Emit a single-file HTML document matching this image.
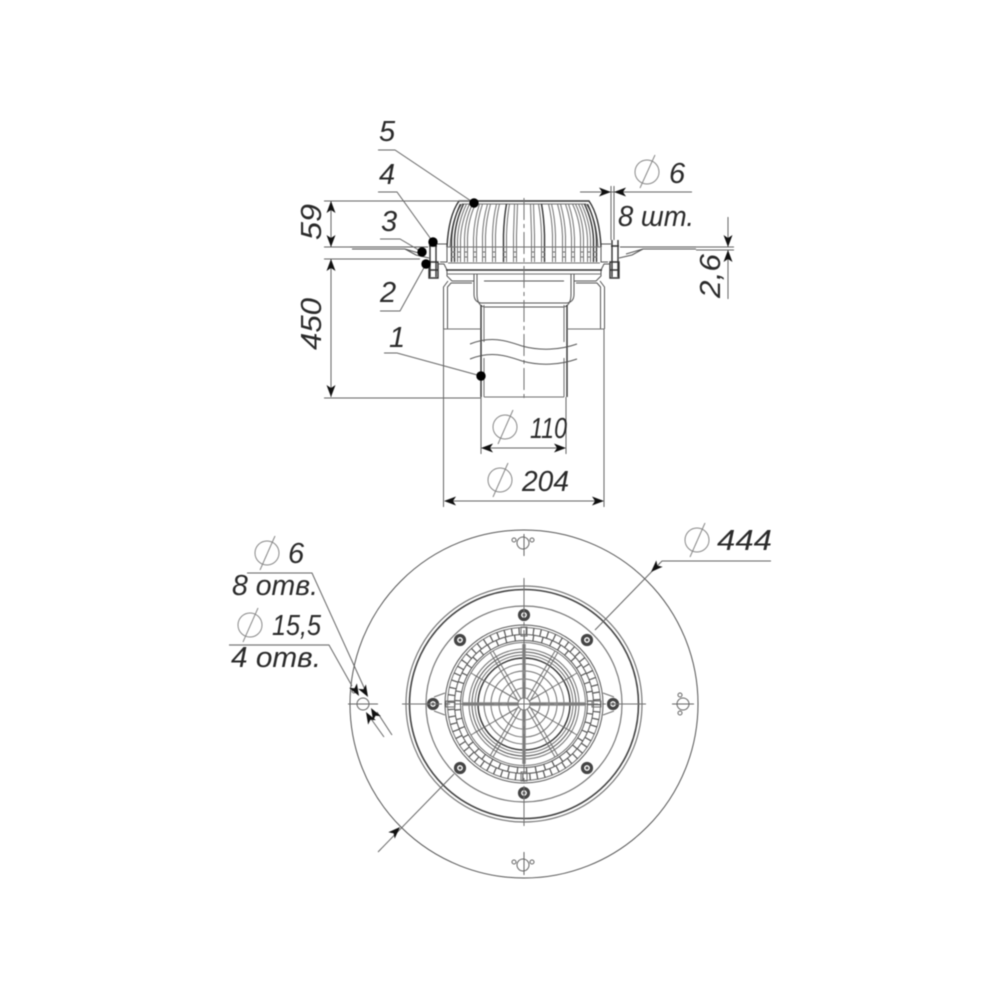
<!DOCTYPE html>
<html lang="ru">
<head>
<meta charset="utf-8">
<title>Diagram</title>
<style>
html,body{margin:0;padding:0;background:#fff;width:1000px;height:1000px;overflow:hidden}
svg{display:block;filter:blur(.5px)}
text{font-family:"Liberation Sans",sans-serif;font-style:italic;fill:#2a2a2a;font-size:29px}
.l{fill:none;stroke:#555;stroke-width:1}
.g{fill:none;stroke:#707070;stroke-width:1}
.t{fill:none;stroke:#666;stroke-width:1}
.k{fill:none;stroke:#333;stroke-width:1.4}
.p{fill:none;stroke:#777;stroke-width:1.2}
</style>
</head>
<body>
<svg width="1000" height="1000" viewBox="0 0 1000 1000" xmlns="http://www.w3.org/2000/svg">
<defs>
<path id="ar" d="M0 0L-12 -4.500L-9 0L-12 4.500Z" fill="#111"/>
<g id="halfSide">
  <!-- flange -->
  <path class="l" d="M350 247H428M352 249H405L422 254M405 249L416 255L429 258"/>
  <!-- bolt -->
  <path class="k" d="M430 240V277M436 240V277M429 246H437M429 262H438V270H429ZM429 270H438V278H429Z"/>
  <!-- seat -->
  <path class="l" d="M437 244H447V262H440M438 264H444L447 270V276L452 281H474"/>
  <!-- dome shell -->
  <path class="k" d="M447 247C448 226 452 211 459 201H524"/>
  <path class="g" d="M450 247C451 228 455 213 462 204H524"/>
  <!-- ribs -->
  <path class="k" d="M451.500 262V240Q452 222 460.500 204M454.500 262V240Q455 222 463.500 204M503.500 262V235Q504 218 506.500 204"/>
  <path class="g" d="M457.500 262V240Q458 222 466.500 204M460.500 262V240Q461 222 469.500 204M464.500 262V238Q465 220 472.500 204M467.500 262V238Q468 220 475.500 204M473.500 262V238Q474 220 479.500 204M476.500 262V238Q477 220 482.500 204M482.500 262V236Q483 220 487.500 204M485.500 262V236Q486 220 490.500 204M492.500 262V235Q493 218 496.500 204M495.500 262V235Q496 218 499.500 204M506.500 262V235Q507 218 509.500 204M513.500 262V235Q514 218 514.500 204M516.500 262V235Q517 218 517.500 204"/>
  <path class="g" d="M451 252H455M451 257H455M457 252H461M457 257H461M464 252H468M464 257H468M473 252H477M473 257H477M482 252H486M482 257H486M492 252H496M492 257H496M503 252H507M503 257H507M513 252H517M513 257H517"/>
  <!-- base -->
  <path class="g" d="M447 247H524M448 263H524M447 274H524"/>
  <path class="k" d="M446 270H524"/>
  <!-- body -->
  <path class="l" d="M443.500 329V287L448 281M447.500 329V287L451 283H472"/>
  <path class="l" d="M474 274V294Q474 302 481 303H524M477 274V294Q477 305 484 307H524M484 281H524"/>
  <!-- pipe -->
  <path class="k" d="M481 305V397"/>
  <path class="g" d="M484 305V342M484 358V397M444 329H481M484 397H524"/>
</g>
<g id="bolt">
  <circle r="4.500" fill="none" stroke="#444" stroke-width="3.200"/>
  <circle r="1.500" fill="#555"/>
</g>
</defs>

<!-- SIDE VIEW -->
<use href="#halfSide"/>
<use href="#halfSide" transform="matrix(-1 0 0 1 1048 0)"/>
<path class="g" d="M524 198V402" stroke-dasharray="22 4 4 4"/>
<path class="l" stroke-width="1.300" d="M470 344C490 336 505 340 522 346C540 351 560 350 577 344M470 359C490 351 505 355 522 361C540 366 560 365 577 359"/>

<!-- dimension lines side -->
<path class="t" d="M324 201H470M324 247H350M324 259H420M324 398H481"/>
<path class="t" d="M331 201V247M331 259V397"/>
<use href="#ar" transform="translate(331 201) rotate(-90)"/>
<use href="#ar" transform="translate(331 247) rotate(90)"/>
<use href="#ar" transform="translate(331 259) rotate(-90)"/>
<use href="#ar" transform="translate(331 397) rotate(90)"/>

<path class="t" d="M481 397V454M566 397V454M443.500 329V507M604 329V507M486 448H562M448 501H600"/>
<use href="#ar" transform="translate(481 448) rotate(180)"/>
<use href="#ar" transform="translate(566 448)"/>
<use href="#ar" transform="translate(444 501) rotate(180)"/>
<use href="#ar" transform="translate(604 501)"/>

<!-- right dims -->
<path class="t" d="M580 192H692M611 186V240M614 186V240M696 247H734M696 250H734M728 217V247M728 250V299"/>
<use href="#ar" transform="translate(611 192)"/>
<use href="#ar" transform="translate(614 192) rotate(180)"/>
<use href="#ar" transform="translate(728 247) rotate(90)"/>
<use href="#ar" transform="translate(728 250) rotate(-90)"/>

<!-- leaders -->
<path class="t" d="M378 150H395L474 203M378 192H397L433 242M380 239H400L422 252M380 311H400L426 264M384 353H397L481 376"/>
<g fill="#000">
<circle cx="474" cy="203" r="4.700"/><circle cx="433" cy="242" r="4.700"/><circle cx="422" cy="252" r="4.700"/><circle cx="426" cy="264" r="4.700"/><circle cx="481" cy="376" r="4.700"/>
</g>

<!-- side labels -->
<text x="379" y="141">5</text>
<text x="379" y="184">4</text>
<text x="381" y="231">3</text>
<text x="380" y="302">2</text>
<text x="389" y="347">1</text>
<text transform="translate(321 222) rotate(-90)" text-anchor="middle" textLength="36" lengthAdjust="spacingAndGlyphs">59</text>
<text transform="translate(321 324) rotate(-90)" text-anchor="middle" textLength="52" lengthAdjust="spacingAndGlyphs">450</text>
<text transform="translate(720 276) rotate(-90)" text-anchor="middle" textLength="44" lengthAdjust="spacingAndGlyphs">2,6</text>
<g fill="none" stroke="#888" stroke-width="1">
<circle cx="647" cy="172" r="12"/><path d="M655 155L640 188"/>
<circle cx="505" cy="427" r="12"/><path d="M513 410L498 444"/>
<circle cx="500" cy="480" r="12"/><path d="M508 463L493 497"/>
<circle cx="267" cy="553" r="12"/><path d="M275 536L260 570"/>
<circle cx="250" cy="625" r="12"/><path d="M258 608L243 642"/>
<circle cx="697" cy="540" r="12"/><path d="M705 523L690 557"/>
</g>
<text x="669" y="183">6</text>
<text x="618" y="226" textLength="76" lengthAdjust="spacingAndGlyphs">8 шт.</text>
<text x="530" y="438" textLength="37" lengthAdjust="spacingAndGlyphs">110</text>
<text x="522" y="491" textLength="47" lengthAdjust="spacingAndGlyphs">204</text>

<!-- PLAN VIEW -->
<circle class="l" cx="524" cy="704" r="174" stroke-width="1.200"/>
<circle class="p" cx="524" cy="704" r="118"/>
<circle cx="524" cy="704" r="114.500" fill="none" stroke="#444" stroke-width="1.600"/>
<circle class="p" cx="524" cy="704" r="98"/>
<!-- grate -->
<circle class="l" cx="524" cy="704" r="79"/>
<circle class="g" cx="524" cy="704" r="76.500"/>
<circle fill="none" stroke="#555" stroke-width="7" cx="524" cy="704" r="73" stroke-dasharray="1.200 6"/>
<circle class="l" cx="524" cy="704" r="69.500"/>
<circle fill="none" stroke="#555" stroke-width="6" cx="524" cy="704" r="66.500" stroke-dasharray="1.200 8"/>
<circle class="l" cx="524" cy="704" r="63.500"/>
<circle class="g" cx="524" cy="704" r="61.500"/>
<circle class="g" cx="524" cy="704" r="55"/>
<circle class="l" cx="524" cy="704" r="52"/>
<circle class="g" cx="524" cy="704" r="49"/>
<circle class="k" cx="524" cy="704" r="46" stroke-width="1.100"/>
<circle class="g" cx="524" cy="704" r="40"/>
<circle class="g" cx="524" cy="704" r="33"/>
<circle class="g" cx="524" cy="704" r="25"/>
<circle class="g" cx="524" cy="704" r="16"/>
<circle class="g" cx="524" cy="704" r="6"/>
<g stroke="#707070" stroke-width="1" fill="none">
<path d="M529 701L577 673M532 699L574 675M519 707L471 735M516 709L474 733M529 707L577 735M532 709L574 733M519 701L471 673M516 699L474 675"/>
<path d="M527 699L555 651M530 701L558 652M521 709L493 757M518 707L490 756M527 709L555 757M530 707L558 756M521 699L493 651M518 701L490 652"/>
</g>
<path d="M524 698V644M524 710V764M518 704H462M530 704H586" stroke="#888" stroke-width="3.500" fill="none"/>
<!-- lugs -->
<path class="g" d="M445 693L434 697M445 715L434 711M603 693L614 697M603 715L614 711"/>
<rect x="446" y="701" width="9" height="6" class="g"/><rect x="592" y="701" width="9" height="6" class="g"/>
<rect x="521" y="627" width="6" height="9" class="g"/><rect x="521" y="772" width="6" height="9" class="g"/>
<!-- bolts -->
<use href="#bolt" transform="translate(524 615)"/>
<use href="#bolt" transform="translate(524 793)"/>
<use href="#bolt" transform="translate(460 640)"/>
<use href="#bolt" transform="translate(587 640)"/>
<use href="#bolt" transform="translate(460 768)"/>
<use href="#bolt" transform="translate(587 768)"/>
<use href="#bolt" transform="translate(433 704)"/>
<use href="#bolt" transform="translate(613 704)"/>
<!-- centre lines -->
<path class="g" d="M402 704H646M524 578V830" stroke-dasharray="40 4 4 4"/>
<path class="t" d="M524 534V556M524 852V875M672 704H694M348 704H378"/>
<!-- holes -->
<g transform="translate(523 543)"><circle r="6" class="t"/><circle cx="-9" cy="-3" r="2" class="t"/><circle cx="9" cy="-3" r="2" class="t"/></g>
<g transform="translate(523 865)"><circle r="6" class="t"/><circle cx="-9" cy="-3" r="2" class="t"/><circle cx="9" cy="-3" r="2" class="t"/></g>
<g transform="translate(683 704)"><circle r="6" class="t"/><circle cx="-3" cy="-9" r="2" class="t"/><circle cx="-3" cy="9" r="2" class="t"/></g>
<circle cx="363" cy="704" r="6" class="t"/>
<circle cx="354" cy="691" r="2" class="t"/>

<!-- diagonal 444 -->
<path class="t" d="M771 561H662L595 630M454 774L378 852"/>
<use href="#ar" transform="translate(651 572) rotate(135)"/>
<use href="#ar" transform="translate(400 827) rotate(-45)"/>
<text x="717" y="550" textLength="55" lengthAdjust="spacingAndGlyphs">444</text>

<!-- left annotations -->
<path class="t" d="M247 573H312L367 694M229 645H329L352 686M369 716L384 737M377 712L392 735"/>
<path d="M229 645H329" stroke="#777" stroke-width="1.300" fill="none"/>
<use href="#ar" transform="translate(359 696) rotate(60)"/>
<use href="#ar" transform="translate(368 697) rotate(60)"/>
<use href="#ar" transform="translate(371 708) rotate(-120)"/>
<use href="#ar" transform="translate(366 712) rotate(-120)"/>
<text x="288" y="563">6</text>
<text x="232" y="595" textLength="86" lengthAdjust="spacingAndGlyphs">8 отв.</text>
<text x="272" y="635" textLength="49" lengthAdjust="spacingAndGlyphs">15,5</text>
<text x="231" y="667" textLength="90" lengthAdjust="spacingAndGlyphs">4 отв.</text>
</svg>
</body>
</html>
